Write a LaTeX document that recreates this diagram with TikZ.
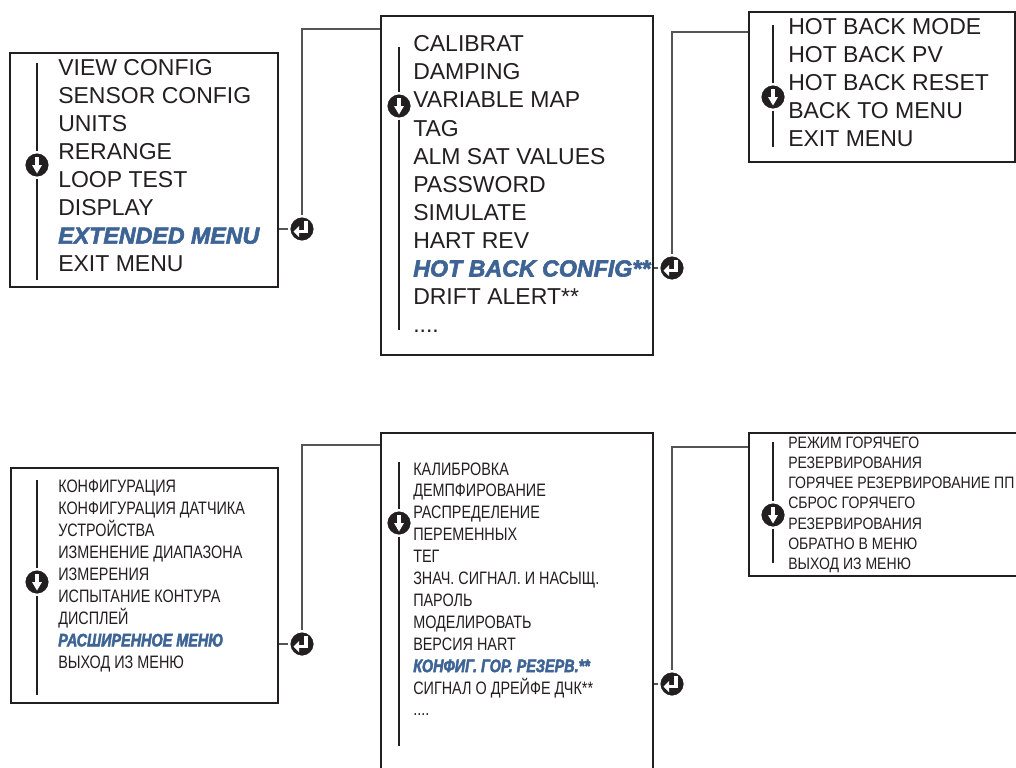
\documentclass[tikz,border=0pt]{standalone}
\usepackage{fontspec}
\setmainfont{Liberation Sans}
\newfontfamily\narrowfont[FakeStretch=0.8]{Liberation Sans}
\newfontfamily\smallnarrowfont[FakeStretch=0.85]{Liberation Sans}
\newfontfamily\heavyfont[FakeBold=2.5]{Liberation Sans}
\newfontfamily\heavynarrowfont[FakeBold=2.5, FakeStretch=0.8]{Liberation Sans}
\usetikzlibrary{fit}

\definecolor{ink}{HTML}{231F20}
\definecolor{hiblue}{HTML}{3D6494}
\definecolor{wire}{HTML}{555555}

\newcommand\enfont{\fontsize{17.25pt}{20pt}\selectfont}
\newcommand\enheavy{\heavyfont\bfseries\itshape\fontsize{17.4pt}{20pt}\selectfont}
\newcommand\rufont{\narrowfont\fontsize{13.5pt}{16pt}\selectfont}
\newcommand\ruheavy{\heavynarrowfont\bfseries\itshape\fontsize{13.5pt}{16pt}\selectfont}
\newcommand\rusmall{\smallnarrowfont\fontsize{12.4pt}{15pt}\selectfont}
\newcommand\moredots{....}

\tikzset{
  menubox/.style={draw=ink, line width=1.6pt, inner sep=0pt},
  wirec/.style={draw=wire, line width=0.8pt},
  rail/.style={draw=ink, line width=1pt},
  en/.style={anchor=base west, inner sep=0pt, text=ink, font=\enfont},
  enhl/.style={anchor=base west, inner sep=0pt, text=hiblue, font=\enheavy},
  ru/.style={anchor=base west, inner sep=0pt, text=ink, font=\rufont},
  ruhl/.style={anchor=base west, inner sep=0pt, text=hiblue, font=\ruheavy},
  rs/.style={anchor=base west, inner sep=0pt, text=ink, font=\rusmall},
  iconball/.style={circle, fill=ink, draw=white, line width=1.5pt,
    minimum size=19pt, inner sep=0pt},
  downicon/.pic={
    \node[iconball] (-c) {};
    \fill[white] (-1.6,-8) rectangle (1.6,1);
    \fill[white] (-5,0) -- (5,0) -- (0,8.5) -- cycle;
  },
  reticon/.pic={
    \node[iconball] (-c) {};
    \fill[white] (2.2,-8) rectangle (5.6,4.2);
    \fill[white] (-3,1) rectangle (5.6,4.2);
    \fill[white] (-8.5,2.6) -- (-3,-2.8) -- (-3,8) -- cycle;
  },
}

\begin{document}
\begin{tikzpicture}[x=0.75pt, y=-0.75pt]
\useasboundingbox (0,0) rectangle (1016,767);
\clip (0,0) rectangle (1016,767);
\fill[white] (0,0) rectangle (1016,767);

% ---------- English menus ----------
\node[menubox, fit={(10,53)(278,287)}] (b1) {};
\node[menubox, fit={(381,16)(653,355)}] (b2) {};
\node[menubox, fit={(749,12)(1015,162)}] (b3) {};

\foreach \s/\st [count=\i from 0] in {VIEW CONFIG/en, SENSOR CONFIG/en, UNITS/en,
    RERANGE/en, LOOP TEST/en, DISPLAY/en, EXTENDED MENU/enhl, EXIT MENU/en}
  \node[\st] (e1-\i) at (58,{75+28.1*\i}) {\s};

\foreach \s/\st [count=\i from 0] in {CALIBRAT/en, DAMPING/en, VARIABLE MAP/en, TAG/en,
    ALM SAT VALUES/en, PASSWORD/en, SIMULATE/en, HART REV/en,
    HOT BACK CONFIG**/enhl, DRIFT ALERT**/en}
  \node[\st] (e2-\i) at (413,{51.7+28.1*\i}) {\s};
\node[en] (e2-10) at (413,332.7) {\moredots};

\foreach \s [count=\i from 0] in {HOT BACK MODE, HOT BACK PV, HOT BACK RESET,
    BACK TO MENU, EXIT MENU}
  \node[en] (e3-\i) at (788,{35+27.9*\i}) {\s};

% scroll rails with down icons
\pic (d1) at (37,165) {downicon};
\pic (d2) at (399,106) {downicon};
\pic (d3) at (773,97) {downicon};
\coordinate (t1) at (37,63);  \coordinate (u1) at (37,280);
\coordinate (t2) at (399,47); \coordinate (u2) at (399,330);
\coordinate (t3) at (773,25); \coordinate (u3) at (773,147);
\draw[rail] (t1) -- (d1-c) -- (u1);
\draw[rail] (t2) -- (d2-c) -- (u2);
\draw[rail] (t3) -- (d3-c) -- (u3);

% enter icons and links
\pic (r1) at (302,229) {reticon};
\pic (r2) at (672,268) {reticon};
\coordinate (j1) at (302,29);
\coordinate (j2) at (672,32);
\draw[wirec] (r1-c) -- (r1-c -| b1.east);
\draw[wirec] (r1-c) -- (j1) -- (j1 -| b2.west);
\draw[wirec] (r2-c) -- (r2-c -| b2.east);
\draw[wirec] (r2-c) -- (j2) -- (j2 -| b3.west);

% ---------- Russian menus ----------
\node[menubox, fit={(11,468)(278,703)}] (b4) {};
\node[menubox, fit={(381,433)(653,790)}] (b5) {};
\node[menubox, fit={(749,433)(1040,576)}] (b6) {};

\foreach \s/\st [count=\i from 0] in {КОНФИГУРАЦИЯ/ru, КОНФИГУРАЦИЯ ДАТЧИКА/ru,
    УСТРОЙСТВА/ru, ИЗМЕНЕНИЕ ДИАПАЗОНА/ru, ИЗМЕРЕНИЯ/ru, ИСПЫТАНИЕ КОНТУРА/ru,
    ДИСПЛЕЙ/ru, РАСШИРЕННОЕ МЕНЮ/ruhl, ВЫХОД ИЗ МЕНЮ/ru}
  \node[\st] (r1t-\i) at (58,{492.7+21.95*\i}) {\s};

\foreach \s/\st [count=\i from 0] in {КАЛИБРОВКА/ru, ДЕМПФИРОВАНИЕ/ru,
    РАСПРЕДЕЛЕНИЕ/ru, ПЕРЕМЕННЫХ/ru, ТЕГ/ru, ЗНАЧ. СИГНАЛ. И НАСЫЩ./ru,
    ПАРОЛЬ/ru, МОДЕЛИРОВАТЬ/ru, ВЕРСИЯ HART/ru, КОНФИГ. ГОР. РЕЗЕРВ.**/ruhl,
    СИГНАЛ О ДРЕЙФЕ ДЧК**/ru}
  \node[\st] (r2t-\i) at (413,{475+21.9*\i}) {\s};
\node[ru] (r2t-11) at (413,715.9) {\moredots};

\foreach \s [count=\i from 0] in {РЕЖИМ ГОРЯЧЕГО, РЕЗЕРВИРОВАНИЯ,
    ГОРЯЧЕЕ РЕЗЕРВИРОВАНИЕ ПП, СБРОС ГОРЯЧЕГО, РЕЗЕРВИРОВАНИЯ,
    ОБРАТНО В МЕНЮ, ВЫХОД ИЗ МЕНЮ}
  \node[rs] (r3t-\i) at (788,{448+20.3*\i}) {\s};

\pic (d4) at (37,582) {downicon};
\pic (d5) at (399,523) {downicon};
\pic (d6) at (773,515) {downicon};
\coordinate (t4) at (37,480);  \coordinate (u4) at (37,695);
\coordinate (t5) at (399,462); \coordinate (u5) at (399,746);
\coordinate (t6) at (773,442); \coordinate (u6) at (773,563);
\draw[rail] (t4) -- (d4-c) -- (u4);
\draw[rail] (t5) -- (d5-c) -- (u5);
\draw[rail] (t6) -- (d6-c) -- (u6);

\pic (r3) at (302,644) {reticon};
\pic (r4) at (672,684) {reticon};
\coordinate (j3) at (302,445);
\coordinate (j4) at (672,447);
\draw[wirec] (r3-c) -- (r3-c -| b4.east);
\draw[wirec] (r3-c) -- (j3) -- (j3 -| b5.west);
\draw[wirec] (r4-c) -- (r4-c -| b5.east);
\draw[wirec] (r4-c) -- (j4) -- (j4 -| b6.west);
\end{tikzpicture}
\end{document}
